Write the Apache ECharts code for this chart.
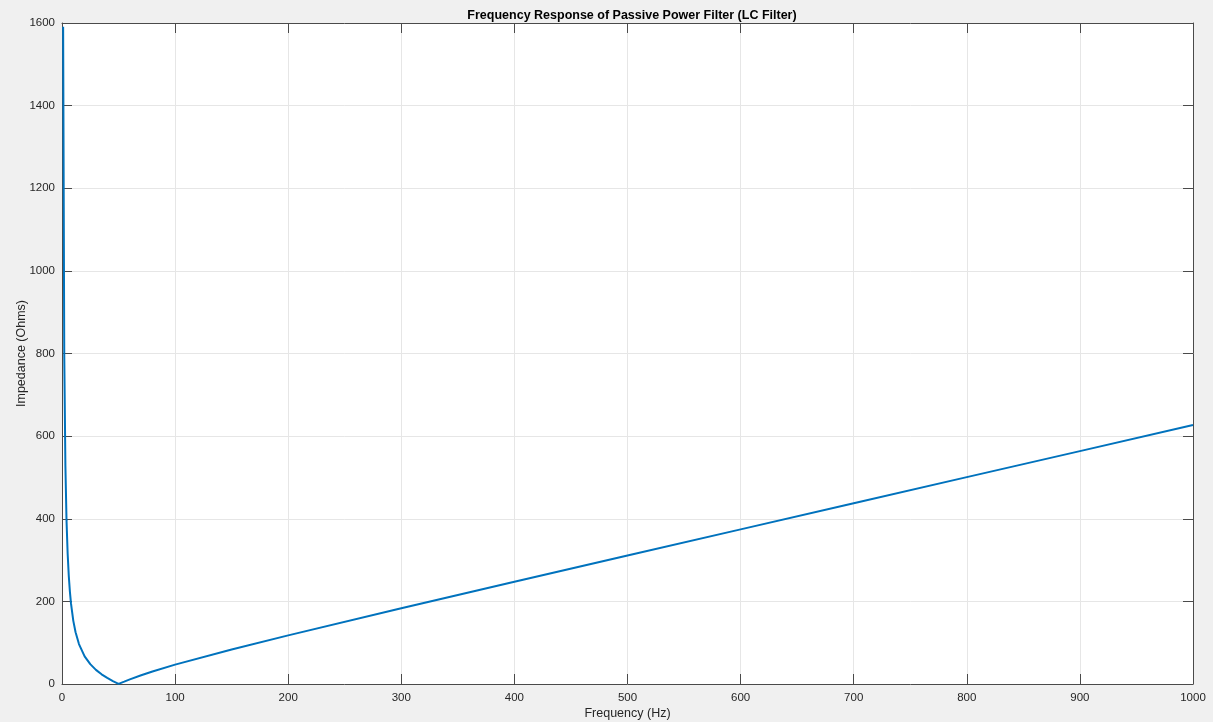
<!DOCTYPE html>
<html>
<head>
<meta charset="utf-8">
<script src="https://cdn.jsdelivr.net/npm/echarts@6/dist/echarts.min.js"></script>
<style>
html,body{margin:0;padding:0;background:#f0f0f0;}
#chart{width:1213px;height:722px;}
</style>
</head>
<body>
<div id="chart"></div>
<script>
// Data (estimates)
const frequencyHz = [1, 2, 3, 4, 5, 6, 7, 8, 10, 12, 15, 20, 25, 30, 35, 40, 45, 50, 55, 60, 70, 80, 100, 150, 200, 300, 400, 500, 600, 700, 800, 900, 1000];
const impedanceOhms = [1590.9, 794.5, 528.6, 395.4, 315.2, 261.5, 223.0, 193.9, 152.9, 125.1, 96.7, 67.0, 48.0, 34.2, 23.5, 14.7, 7.1, 0.4, 5.6, 11.2, 21.2, 30.4, 46.9, 83.6, 117.7, 183.2, 247.3, 311.0, 374.3, 437.5, 500.7, 563.7, 626.7];
const xTicks = [0, 100, 200, 300, 400, 500, 600, 700, 800, 900, 1000];
const yTicks = [0, 200, 400, 600, 800, 1000, 1200, 1400, 1600];
const titleText = 'Frequency Response of Passive Power Filter (LC Filter)';
const xLabel = 'Frequency (Hz)';
const yLabel = 'Impedance (Ohms)';

const axisColor = '#4a4a4a';
const textColor = '#262626';
const font = 'Liberation Sans, Arial, Helvetica, sans-serif';

const chart = echarts.init(document.getElementById('chart'), null, {renderer: 'canvas'});
const series = frequencyHz.map((f, i) => [f, impedanceOhms[i]]);

function baseAxis(extra) {
  return Object.assign({
    type: 'value',
    axisLine: {show: true, onZero: false, lineStyle: {color: axisColor, width: 1}},
    axisTick: {show: true, inside: true, length: 10, lineStyle: {color: axisColor, width: 1}},
    splitLine: {show: false},
    axisLabel: {show: false}
  }, extra);
}

chart.setOption({
  animation: false,
  backgroundColor: '#f0f0f0',
  title: {
    text: titleText,
    left: 627, top: 4, textAlign: 'center',
    textStyle: {fontFamily: font, fontSize: 12.5, fontWeight: 'bold', color: '#000'}
  },
  grid: {
    left: 62, right: 20, top: 23, bottom: 38,
    show: true, backgroundColor: '#ffffff', borderColor: axisColor, borderWidth: 0,
    containLabel: false,
    outerBoundsMode: 'none'
  },
  xAxis: [
    baseAxis({
      min: 0, max: 1000, interval: 100, position: 'bottom',
      name: xLabel, nameLocation: 'middle', nameGap: 23, nameMoveOverlap: false,
      nameTextStyle: {fontFamily: font, fontSize: 12.5, color: textColor},
      splitLine: {show: true, lineStyle: {color: '#e6e6e6', width: 1}},
      axisLabel: {show: true, fontFamily: font, fontSize: 11.5, color: textColor, margin: 8,
        formatter: v => xTicks.includes(v) ? String(v) : ''}
    }),
    baseAxis({min: 0, max: 1000, interval: 100, position: 'top'})
  ],
  yAxis: [
    baseAxis({
      min: 0, max: 1600, interval: 200, position: 'left',
      name: yLabel, nameLocation: 'middle', nameGap: 34, nameRotate: 90, nameMoveOverlap: false,
      nameTextStyle: {fontFamily: font, fontSize: 12.5, color: textColor},
      splitLine: {show: true, lineStyle: {color: '#e6e6e6', width: 1}},
      axisLabel: {show: true, fontFamily: font, fontSize: 11.5, color: textColor, margin: 7,
        formatter: v => yTicks.includes(v) ? String(v) : ''}
    }),
    baseAxis({min: 0, max: 1600, interval: 200, position: 'right'})
  ],
  series: [{
    type: 'line',
    data: series,
    xAxisIndex: 0, yAxisIndex: 0,
    showSymbol: false,
    smooth: false,
    lineStyle: {color: '#0072BD', width: 2},
    itemStyle: {color: '#0072BD'},
    z: 5
  }]
});
</script>
</body>
</html>
